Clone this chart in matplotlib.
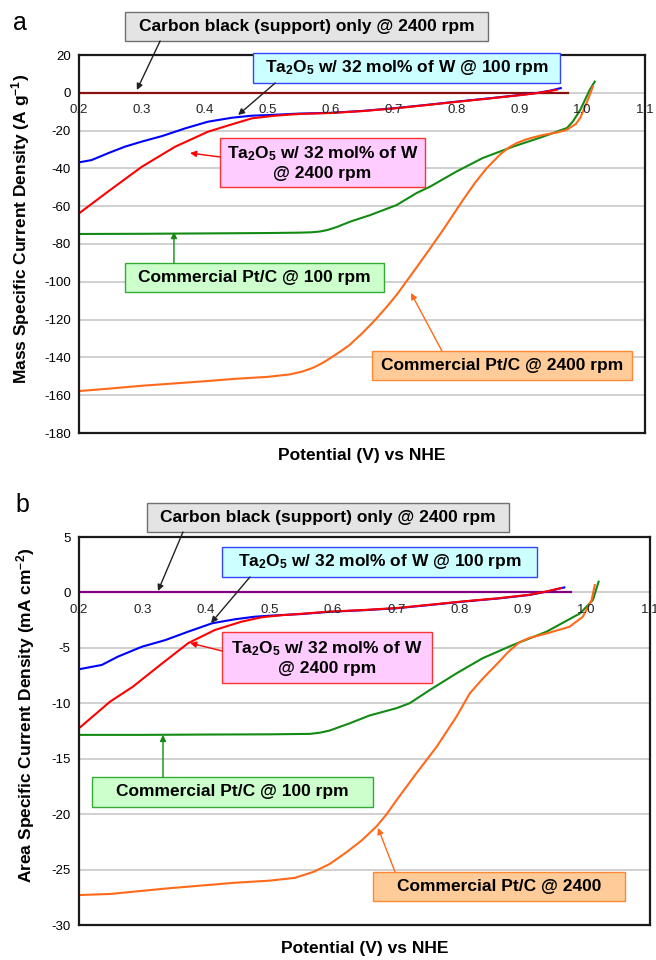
import matplotlib
matplotlib.use("Agg")
import matplotlib.pyplot as plt
from matplotlib.patches import Rectangle

plt.rcParams["font.family"] = ["Liberation Sans", "DejaVu Sans"]
plt.rcParams["mathtext.fontset"] = "custom"
plt.rcParams["mathtext.rm"] = "Liberation Sans"
plt.rcParams["mathtext.bf"] = "Liberation Sans:bold"
plt.rcParams["mathtext.default"] = "bf"
plt.rcParams["axes.unicode_minus"] = False

# ---------------- data: panel a (mass specific, A/g) ----------------
a_carbon_x = [0.20, 0.50, 0.977]
a_carbon_y = [0.0, 0.0, 0.0]

a_blue_x = [0.20, 0.22, 0.246, 0.273, 0.30, 0.332, 0.369, 0.405, 0.443, 0.475, 0.50,
            0.55, 0.60, 0.65, 0.70, 0.75, 0.80, 0.85, 0.90, 0.93, 0.95, 0.966]
a_blue_y = [-36.8, -35.6, -32.0, -28.5, -25.8, -22.9, -18.8, -15.3, -13.2, -12.1, -11.8,
            -11.0, -10.6, -9.6, -8.2, -6.5, -4.7, -3.0, -1.2, 0.0, 1.2, 2.5]

a_red_x = [0.20, 0.246, 0.30, 0.353, 0.405, 0.443, 0.475, 0.512, 0.55, 0.60, 0.65,
           0.70, 0.75, 0.80, 0.85, 0.90, 0.93, 0.96]
a_red_y = [-63.8, -52.3, -39.1, -28.5, -20.6, -16.7, -13.5, -12.1, -11.2, -10.7, -9.7,
           -8.3, -6.6, -4.8, -3.1, -1.3, -0.1, 1.6]

a_green_x = [0.20, 0.30, 0.40, 0.50, 0.55, 0.57, 0.583, 0.595, 0.61, 0.631, 0.663, 0.705,
             0.737, 0.758, 0.78, 0.80, 0.842, 0.89, 0.938, 0.976, 0.985, 0.997, 1.012, 1.02]
a_green_y = [-74.7, -74.6, -74.4, -74.2, -74.0, -73.8, -73.4, -72.6, -71.0, -68.2, -64.7, -59.4,
             -53.0, -49.7, -45.5, -41.7, -34.5, -28.5, -23.2, -18.6, -15.3, -9.1, 1.5, 5.9]

a_orange_x = [0.20, 0.249, 0.30, 0.392, 0.45, 0.50, 0.535, 0.555, 0.572, 0.587, 0.60, 0.615,
              0.63, 0.651, 0.67, 0.69, 0.706, 0.73, 0.758, 0.78, 0.81, 0.83, 0.848, 0.87,
              0.885, 0.896, 0.91, 0.92, 0.938, 0.96, 0.975, 0.99, 0.997, 1.005, 1.009, 1.017]
a_orange_y = [-157.8, -156.5, -155.0, -152.8, -151.3, -150.3, -149.0, -147.5, -145.5, -143.0, -140.3, -137.0,
              -133.5, -127.0, -120.5, -113.0, -106.5, -95.5, -82.5, -72.0, -57.0, -47.5, -40.0, -32.5,
              -28.6, -26.6, -24.8, -23.8, -22.3, -21.0, -19.7, -16.5, -13.3, -7.0, -3.8, 3.2]

# ---------------- data: panel b (area specific, mA/cm2) ----------------
b_carbon_x = [0.20, 0.50, 0.976]
b_carbon_y = [0.0, 0.0, 0.0]

b_blue_x = [0.20, 0.236, 0.261, 0.299, 0.336, 0.372, 0.41, 0.446, 0.477, 0.50, 0.55, 0.595,
            0.65, 0.70, 0.75, 0.805, 0.86, 0.91, 0.937, 0.965]
b_blue_y = [-6.93, -6.54, -5.8, -4.9, -4.3, -3.54, -2.78, -2.42, -2.19, -2.1, -1.95, -1.75,
            -1.6, -1.43, -1.15, -0.83, -0.55, -0.23, 0.07, 0.45]

b_red_x = [0.20, 0.249, 0.285, 0.328, 0.372, 0.414, 0.456, 0.488, 0.52, 0.55, 0.595, 0.65,
           0.70, 0.75, 0.805, 0.86, 0.91, 0.937, 0.96]
b_red_y = [-12.25, -9.85, -8.5, -6.54, -4.58, -3.39, -2.64, -2.24, -2.05, -1.93, -1.73, -1.58,
           -1.41, -1.13, -0.81, -0.53, -0.21, 0.09, 0.4]

b_green_x = [0.20, 0.30, 0.40, 0.50, 0.564, 0.58, 0.595, 0.627, 0.658, 0.70, 0.721, 0.753,
             0.795, 0.836, 0.884, 0.937, 0.99, 1.01, 1.019]
b_green_y = [-12.85, -12.85, -12.82, -12.8, -12.76, -12.65, -12.46, -11.8, -11.1, -10.45, -10.0, -8.8,
             -7.3, -5.94, -4.74, -3.54, -1.88, -0.68, 0.97]

b_orange_x = [0.20, 0.249, 0.339, 0.443, 0.50, 0.54, 0.57, 0.595, 0.62, 0.645, 0.669, 0.685,
              0.701, 0.732, 0.764, 0.795, 0.816, 0.836, 0.858, 0.876, 0.894, 0.91, 0.937,
              0.973, 0.994, 1.008, 1.013]
b_orange_y = [-27.3, -27.2, -26.7, -26.2, -26.0, -25.75, -25.2, -24.5, -23.5, -22.4, -21.1, -20.0,
              -18.7, -16.3, -13.9, -11.2, -9.1, -7.8, -6.5, -5.4, -4.5, -4.1, -3.7,
              -3.1, -2.2, -0.68, 0.67]

x_ticks = [0.2, 0.3, 0.4, 0.5, 0.6, 0.7, 0.8, 0.9, 1.0, 1.1]
x_tick_labels = ["0.2", "0.3", "0.4", "0.5", "0.6", "0.7", "0.8", "0.9", "1.0", "1.1"]
a_yticks = [20, 0, -20, -40, -60, -80, -100, -120, -140, -160, -180]
b_yticks = [5, 0, -5, -10, -15, -20, -25, -30]

TA = "Ta$_2$O$_5$ w/ 32 mol% of W"

# callouts: text, arrow head, arrow tail, box (x0, x1, y_bottom, y_top), face, edge, arrow colour
a_notes = [
    ("Carbon black (support) only @ 2400 rpm", (0.292, 1.5), (0.329, 27.4),
     (0.273, 0.850, 27.4, 42.75), "#e4e4e4", "#707070", "#222222"),
    (TA + " @ 100 rpm", (0.453, -11.75), (0.512, 5.19),
     (0.4766, 0.9647, 5.19, 21.06), "#ccffff", "#3344ff", "#222222"),
    (TA + "\n@ 2400 rpm", (0.3765, -31.85), (0.4242, -33.97),
     (0.4242, 0.7501, -49.84, -23.92), "#ffccff", "#ff3333", "#ff0000"),
    ("Commercial Pt/C @ 100 rpm", (0.351, -73.65), (0.351, -90.05),
     (0.2731, 0.6849, -105.4, -90.05), "#ccffcc", "#33aa33", "#138a13"),
    ("Commercial Pt/C @ 2400 rpm", (0.7278, -105.9), (0.7771, -136.6),
     (0.6658, 1.0792, -151.96, -136.6), "#ffcc99", "#ff8833", "#ff6a1a"),
]
b_notes = [
    ("Carbon black (support) only @ 2400 rpm", (0.3245, 0.13), (0.3639, 5.451),
     (0.3072, 0.8778, 5.451, 8.066), "#e4e4e4", "#707070", "#222222"),
    (TA + " @ 100 rpm", (0.4081, -2.755), (0.4695, 1.393),
     (0.4254, 0.9219, 1.393, 4.098), "#ccffff", "#3344ff", "#222222"),
    (TA + "\n@ 2400 rpm", (0.375, -4.56), (0.4254, -5.28),
     (0.4254, 0.7564, -8.165, -3.566), "#ffccff", "#ff3333", "#ff0000"),
    ("Commercial Pt/C @ 100 rpm", (0.3324, -12.85), (0.3324, -16.64),
     (0.2205, 0.6634, -19.35, -16.64), "#ccffcc", "#33aa33", "#138a13"),
    ("Commercial Pt/C @ 2400", (0.6713, -21.24), (0.6981, -25.21),
     (0.6634, 1.0607, -27.82, -25.21), "#ffcc99", "#ff8833", "#ff6a1a"),
]


def draw_panel(ax, curves, carbon_color, yticks, ylabel, notes, ylab_x):
    ax.set_xlim(0.2, 1.1)
    ax.set_ylim(min(yticks), max(yticks))
    ax.set_yticks(yticks)
    ax.set_yticklabels([str(t) for t in yticks], fontsize=9.5)
    ax.set_xticks([])
    ax.tick_params(axis="y", length=0, pad=6)
    ax.yaxis.grid(True, color="#c8c8c8", lw=1.2)
    ax.set_axisbelow(True)
    for sp in ax.spines.values():
        sp.set_linewidth(1.6)
        sp.set_color("#1a1a1a")

    # x tick labels sit under the y = 0 line, Excel style
    for v, lab in zip(x_ticks, x_tick_labels):
        ax.annotate(lab, (v, 0), xytext=(0, -8), textcoords="offset points",
                    ha="center", va="top", fontsize=9.5, color="#222222",
                    annotation_clip=False)

    cx, cy = curves[0]
    ax.plot(cx, cy, color=carbon_color, lw=1.6)
    colors = ["#0000ff", "#ff0000", "#138a13", "#ff6a1a"]
    for (x, y), c in zip(curves[1:], colors):
        ax.plot(x, y, color=c, lw=1.5)

    for text, head, tail, (x0, x1, y0, y1), fc, ec, ac in notes:
        ax.add_patch(Rectangle((x0, y0), x1 - x0, y1 - y0, fc=fc, ec=ec, lw=1.0,
                               clip_on=False, zorder=5))
        ax.text((x0 + x1) / 2, (y0 + y1) / 2, text, ha="center", va="center",
                fontsize=12.5, fontweight="bold", linespacing=1.25, zorder=6,
                clip_on=False)
        ax.annotate("", xy=head, xytext=tail, annotation_clip=False, zorder=6,
                    arrowprops=dict(arrowstyle="-|>", color=ac, lw=1.0,
                                    mutation_scale=9, shrinkA=0, shrinkB=0))

    ax.set_xlabel("Potential (V) vs NHE", fontsize=12.5, fontweight="bold")
    ax.xaxis.set_label_coords(0.5, -0.04)
    ax.set_ylabel(ylabel, fontsize=12.5, fontweight="bold")
    ax.yaxis.set_label_coords(ylab_x, 0.54)


fig = plt.figure(figsize=(6.56, 9.6), dpi=100)
ax_a = fig.add_axes([79 / 656, 1 - 433 / 960, (645 - 79) / 656, (433 - 55) / 960])
ax_b = fig.add_axes([79 / 656, 1 - 925 / 960, (650 - 79) / 656, (925 - 537) / 960])

draw_panel(ax_a,
           [(a_carbon_x, a_carbon_y), (a_blue_x, a_blue_y), (a_red_x, a_red_y),
            (a_green_x, a_green_y), (a_orange_x, a_orange_y)],
           "#8b1010", a_yticks, "Mass Specific Current Density (A g$^{-1}$)",
           a_notes, -0.083)
draw_panel(ax_b,
           [(b_carbon_x, b_carbon_y), (b_blue_x, b_blue_y), (b_red_x, b_red_y),
            (b_green_x, b_green_y), (b_orange_x, b_orange_y)],
           "#800080", b_yticks, "Area Specific Current Density (mA cm$^{-2}$)",
           b_notes, -0.0735)

fig.text(0.02, 0.969, "a", fontsize=18)
fig.text(0.023, 0.467, "b", fontsize=18)

fig.savefig("out.png", dpi=100)
